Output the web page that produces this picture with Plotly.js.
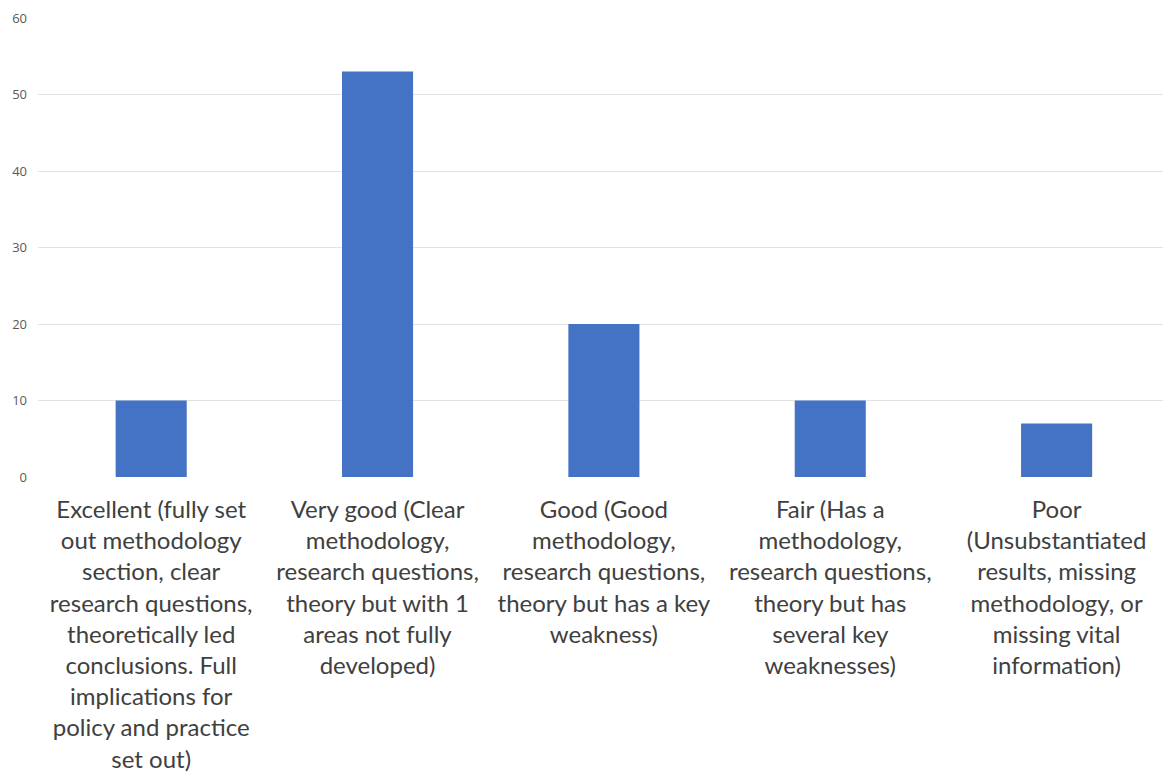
<!DOCTYPE html>
<html>
<head>
<meta charset="utf-8">
<script src="https://cdn.plot.ly/plotly-3.0.1.min.js"></script>
<style>html,body{margin:0;padding:0;background:#fff;}#chart{width:1163px;height:780px;}</style>
</head>
<body>
<div id="chart"></div>
<script>
var categories = [
  "Excellent (fully set<br>out methodology<br>section, clear<br>research questions,<br>theoretically led<br>conclusions. Full<br>implications for<br>policy and practice<br>set out)",
  "Very good (Clear<br>methodology,<br>research questions,<br>theory but with 1<br>areas not fully<br>developed)",
  "Good (Good<br>methodology,<br>research questions,<br>theory but has a key<br>weakness)",
  "Fair (Has a<br>methodology,<br>research questions,<br>theory but has<br>several key<br>weaknesses)",
  "Poor<br>(Unsubstantiated<br>results, missing<br>methodology, or<br>missing vital<br>information)"
];
var values = [10, 53, 20, 10, 7];
var yTicks = [0, 10, 20, 30, 40, 50, 60];

var idx = categories.map(function(c, i){ return i; });

Plotly.newPlot('chart', [{
  type: 'bar',
  x: idx,
  y: values,
  marker: {color: '#4472C4'},
  hoverinfo: 'none'
}], {
  width: 1163, height: 780,
  margin: {l: 38, r: 0, t: 18, b: 303},
  paper_bgcolor: '#ffffff',
  plot_bgcolor: '#ffffff',
  bargap: 0.686,
  showlegend: false,
  xaxis: {
    tickmode: 'array',
    tickvals: idx,
    ticktext: categories,
    range: [-0.5, 4.47],
    showgrid: false,
    zeroline: false,
    showline: false,
    ticks: '',
    tickangle: 0,
    ticklabelstandoff: 16,
    tickfont: {family: 'Lato, "Open Sans", sans-serif', size: 24, color: '#404040'}
  },
  yaxis: {
    range: [0, 60],
    tickmode: 'array',
    tickvals: yTicks,
    ticktext: yTicks.map(String),
    showgrid: true,
    gridcolor: '#e3e3e3',
    gridwidth: 1,
    zeroline: false,
    showline: false,
    ticks: '',
    ticklabelstandoff: 10,
    tickfont: {family: '"Open Sans", sans-serif', size: 13, color: '#595959'}
  }
}, {staticPlot: true});
</script>
</body>
</html>
